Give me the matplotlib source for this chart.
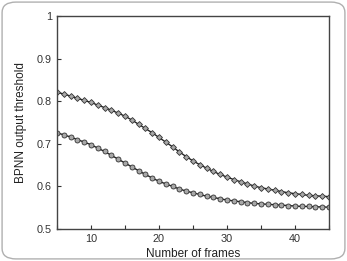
import numpy as np
import matplotlib.pyplot as plt
from matplotlib.patches import FancyBboxPatch
from matplotlib.ticker import MultipleLocator

plt.rcParams['font.family'] = ['Liberation Sans', 'DejaVu Sans']

# frames 5..45
frames = list(range(5, 46))

# upper curve (diamond markers)
thr_upper = [0.821, 0.817, 0.812, 0.807, 0.802, 0.797, 0.791, 0.785, 0.779, 0.772,
             0.765, 0.756, 0.746, 0.736, 0.726, 0.715, 0.704, 0.693, 0.681, 0.670,
             0.660, 0.651, 0.643, 0.635, 0.628, 0.622, 0.616, 0.611, 0.606, 0.601,
             0.597, 0.594, 0.591, 0.588, 0.585, 0.583, 0.581, 0.579, 0.578, 0.577,
             0.576]

# lower curve (circle markers)
thr_lower = [0.726, 0.721, 0.716, 0.710, 0.704, 0.698, 0.690, 0.682, 0.673, 0.664,
             0.655, 0.646, 0.637, 0.628, 0.620, 0.612, 0.606, 0.600, 0.594, 0.589,
             0.585, 0.581, 0.577, 0.574, 0.571, 0.568, 0.566, 0.564, 0.562, 0.560,
             0.559, 0.558, 0.557, 0.556, 0.555, 0.554, 0.553, 0.553, 0.552, 0.552,
             0.551]

fig = plt.figure(figsize=(3.47, 2.61), dpi=100)
ax = fig.add_axes([0.164, 0.1226, 0.784, 0.8161])

# rounded outer border
border = FancyBboxPatch((0.006, 0.008), 0.988, 0.984,
                        boxstyle="round,pad=0,rounding_size=0.04",
                        transform=fig.transFigure, fill=False,
                        edgecolor='#b0b0b0', linewidth=1.0)
fig.patches.append(border)

ax.plot(frames, thr_upper, color='#222222', lw=1.0, marker='D', ms=3.0,
        mfc='#a8a8a8', mec='#333333', mew=0.6)
ax.plot(frames, thr_lower, color='#222222', lw=1.0, marker='o', ms=3.6,
        mfc='#a8a8a8', mec='#333333', mew=0.6)

ax.set_xlim(5, 45)
ax.set_ylim(0.5, 1.0)
ax.xaxis.set_major_locator(MultipleLocator(10))
ax.xaxis.set_minor_locator(MultipleLocator(5))
ax.set_yticks([0.5, 0.6, 0.7, 0.8, 0.9, 1.0])
ax.set_yticklabels(['0.5', '0.6', '0.7', '0.8', '0.9', '1'])

ax.tick_params(which='both', direction='in', length=3, width=0.8,
               labelsize=7.8, colors='#333333', top=False, right=False)
for s in ax.spines.values():
    s.set_color('#444444')
    s.set_linewidth(1.0)

ax.set_xlabel('Number of frames', fontsize=8.5, color='#222222', labelpad=3)
ax.set_ylabel('BPNN output threshold', fontsize=8.5, color='#222222', labelpad=7)

fig.savefig('out.png', dpi=100)
